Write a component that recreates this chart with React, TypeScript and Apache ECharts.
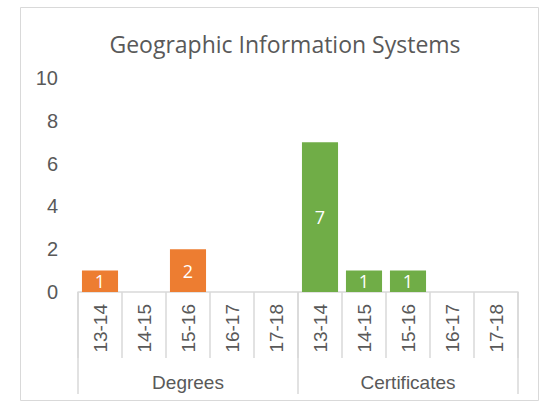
import React, { useEffect, useRef } from "react";
import * as echarts from "echarts";

const years = ["13-14", "14-15", "15-16", "16-17", "17-18"];
const groups = ["Degrees", "Certificates"];
const degreesValues = [1, 0, 2, 0, 0];
const certificatesValues = [7, 1, 1, 0, 0];
const yTicks = { min: 0, max: 10, interval: 2 };

const TEXT = "#595959";
const LINE = "#D9D9D9";

export default function App() {
  const ref = useRef<HTMLDivElement>(null);
  useEffect(() => {
    if (!ref.current) return;
    const chart = echarts.init(ref.current, undefined, { renderer: "svg" });
    const categories = groups.flatMap(() => years.map((y) => y));
    const pad = years.map(() => "-");
    const labelFmt = (p: any) => (p.value ? String(p.value) : "");
    chart.setOption({
      animation: false,
      backgroundColor: "#fff",
      title: {
        text: "Geographic Information Systems",
        left: 280,
        textAlign: "center",
        top: 27,
        textStyle: { fontFamily: "Open Sans", fontSize: 23, fontWeight: "normal", color: TEXT },
      },
      graphic: [
        {
          type: "rect",
          shape: { x: 20.5, y: 7.5, width: 518, height: 393 },
          style: { fill: "none", stroke: LINE, lineWidth: 1 },
          silent: true,
        },
      ],
      grid: { left: 78, right: 24, top: 78, bottom: 110, containLabel: false },
      xAxis: [
        {
          type: "category",
          data: categories,
          position: "bottom",
          axisLine: { show: true, lineStyle: { color: LINE, width: 1.5 } },
          axisTick: { show: true, interval: 0, length: 66, lineStyle: { color: LINE, width: 1.5 } },
          axisLabel: {
            interval: 0,
            rotate: 90,
            margin: 12,
            fontFamily: "Liberation Sans",
            fontSize: 19,
            color: TEXT,
          },
          splitLine: { show: false },
        },
        {
          type: "category",
          data: groups,
          position: "bottom",
          axisLine: { show: false },
          axisTick: { show: true, interval: 0, length: 102, lineStyle: { color: LINE, width: 1.5 } },
          axisLabel: {
            interval: 0,
            margin: 81,
            fontFamily: "Liberation Sans",
            fontSize: 19,
            color: TEXT,
          },
          splitLine: { show: false },
        },
      ],
      yAxis: {
        type: "value",
        min: yTicks.min,
        max: yTicks.max,
        interval: yTicks.interval,
        axisLine: { show: false },
        axisTick: { show: false },
        splitLine: { show: false },
        axisLabel: { margin: 20, fontFamily: "Liberation Sans", fontSize: 20, color: TEXT },
      },
      series: [
        {
          name: "Degrees",
          type: "bar",
          stack: "all",
          xAxisIndex: 0,
          barCategoryGap: "18%",
          data: [...degreesValues, ...pad],
          itemStyle: { color: "#ED7D31" },
          label: {
            show: true,
            position: "inside",
            formatter: labelFmt,
            color: "#fff",
            fontFamily: "Open Sans",
            fontSize: 18,
          },
        },
        {
          name: "Certificates",
          type: "bar",
          stack: "all",
          xAxisIndex: 0,
          barCategoryGap: "18%",
          data: [...pad, ...certificatesValues],
          itemStyle: { color: "#70AD47" },
          label: {
            show: true,
            position: "inside",
            formatter: labelFmt,
            color: "#fff",
            fontFamily: "Open Sans",
            fontSize: 18,
          },
        },
      ],
    });
    return () => chart.dispose();
  }, []);
  return (
    <div
      ref={ref}
      style={{ position: "absolute", left: 0, top: 0, width: 542, height: 402 }}
    />
  );
}
